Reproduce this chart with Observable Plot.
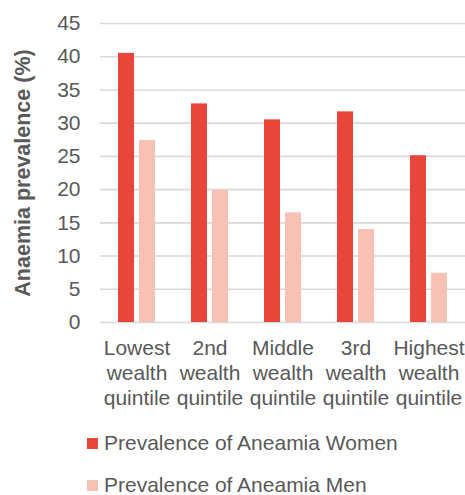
<!DOCTYPE html>
<html>
<head>
<meta charset="utf-8">
<script src="https://cdn.jsdelivr.net/npm/d3@7"></script>
<script src="https://cdn.jsdelivr.net/npm/@observablehq/plot@0.6"></script>
<style>
  body { margin: 0; background: #fff; font-family: "Liberation Sans", Arial, sans-serif; }
  #chart { position: relative; width: 465px; }
  .legend { position: relative; height: 75px; overflow: hidden; }
  .item { position: absolute; left: 87px; display: flex; align-items: center; font-size: 21px; line-height: 20px; height: 20px; color: #595959; white-space: nowrap; }
  .sw { width: 11px; height: 11px; margin-right: 6px; }
</style>
</head>
<body>
<div id="chart"></div>
<script>
const categories = ["Lowest\nwealth\nquintile", "2nd\nwealth\nquintile", "Middle\nwealth\nquintile", "3rd\nwealth\nquintile", "Highest\nwealth\nquintile"];
const women = [40.5, 32.9, 30.5, 31.7, 25.1];
const men = [27.4, 19.9, 16.5, 14.0, 7.4];
const series = ["Prevalence of Aneamia Women", "Prevalence of Aneamia Men"];
const colors = ["#E8463B", "#F8C1B5"];
const yTicks = [0, 5, 10, 15, 20, 25, 30, 35, 40, 45];

const data = [];
categories.forEach((c, i) => {
  data.push({cat: c, sex: series[0], value: women[i]});
  data.push({cat: c, sex: series[1], value: men[i]});
});

const plot = Plot.plot({
  width: 465,
  height: 420,
  marginLeft: 100,
  marginRight: 0,
  marginTop: 23,
  marginBottom: 98,
  style: {fontFamily: "'Liberation Sans', Arial, sans-serif", color: "#595959", background: "#fff"},
  fx: {domain: categories, padding: 0, axis: null},
  x: {domain: series, paddingInner: 0.238, paddingOuter: 0.857, axis: null},
  y: {domain: [0, 45], axis: null},
  color: {domain: series, range: colors},
  marks: [
    Plot.gridY(yTicks, {stroke: "#d9d9d9", strokeOpacity: 1, strokeWidth: 1.6}),
    Plot.axisY(yTicks, {tickSize: 0, tickPadding: 20, fontSize: 21, label: null, fill: "#595959"}),
    Plot.axisY({ticks: [], label: "Anaemia prevalence (%)", labelAnchor: "center", labelArrow: "none", labelOffset: 86, fontSize: 21.5, fontWeight: "bold", fill: "#595959"}),
    Plot.axisFx({anchor: "bottom", tickSize: 0, tickPadding: 15, fontSize: 21, lineHeight: 1.18, label: null, fill: "#595959"}),
    Plot.barY(data, {fx: "cat", x: "sex", y: "value", fill: "sex"})
  ]
});
document.getElementById("chart").appendChild(plot);

const legend = document.createElement("div");
legend.className = "legend";
series.forEach((s, i) => {
  const item = document.createElement("div");
  item.className = "item";
  item.style.top = (13 + i * 42) + "px";
  const sw = document.createElement("span");
  sw.className = "sw";
  sw.style.background = colors[i];
  const t = document.createElement("span");
  t.textContent = s;
  item.appendChild(sw);
  item.appendChild(t);
  legend.appendChild(item);
});
document.body.appendChild(legend);
</script>
</body>
</html>
